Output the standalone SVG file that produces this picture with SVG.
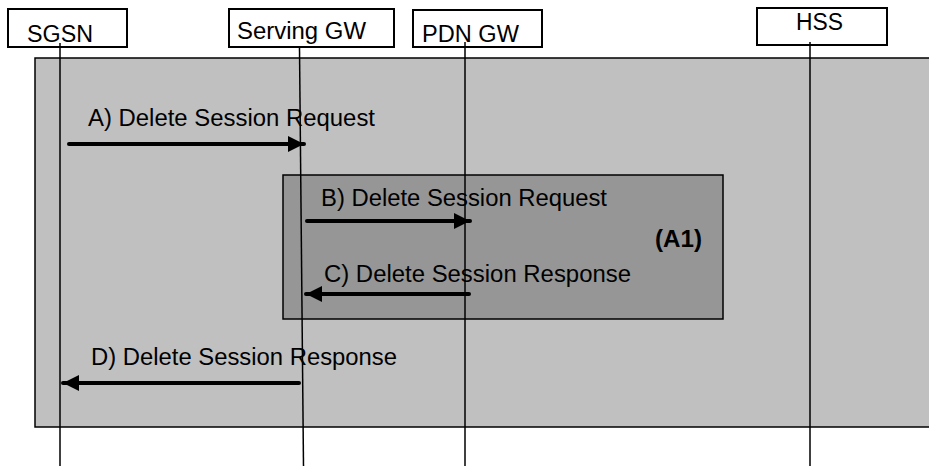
<svg xmlns="http://www.w3.org/2000/svg" width="929" height="466" viewBox="0 0 929 466">
<defs>
<style>
.t{font-family:"Liberation Sans",Arial,sans-serif;font-size:23px;fill:#000}
.b{font-weight:bold}
.hd{fill:#fff;stroke:#000;stroke-width:2}
.ll{stroke:#000;stroke-width:1.5;fill:none}
.ar{stroke:#000;stroke-width:4;fill:none;stroke-linecap:round}
</style>
<marker id="ah" markerUnits="userSpaceOnUse" markerWidth="18" markerHeight="18" refX="16" refY="8" orient="auto">
<path d="M0,0 L16,8 L0,16 Z" fill="#000"/>
</marker>
</defs>
<rect id="bg" x="35" y="58" width="900" height="369" fill="#c0c0c0" stroke="#000" stroke-width="1.5"/>
<rect id="a1box" x="283" y="175" width="440" height="144" fill="#969696" stroke="#000" stroke-width="1.5"/>
<g id="sgsn"><rect class="hd" x="8" y="9" width="119" height="38"/><text class="t" x="27" y="42" textLength="66" lengthAdjust="spacingAndGlyphs">SGSN</text></g>
<g id="sgw"><rect class="hd" x="229" y="9" width="165" height="38"/><text class="t" x="237" y="39" textLength="129" lengthAdjust="spacingAndGlyphs">Serving GW</text></g>
<g id="pgw"><rect class="hd" x="413" y="10" width="129" height="37"/><text class="t" x="422" y="42" textLength="97" lengthAdjust="spacingAndGlyphs">PDN GW</text></g>
<g id="hss"><rect class="hd" x="757" y="8" width="130" height="37"/><text class="t" x="796" y="30" textLength="47" lengthAdjust="spacingAndGlyphs">HSS</text></g>
<g id="connectors">
<line class="ll" x1="60" y1="43" x2="60" y2="466"/>
<line class="ll" x1="299.5" y1="48" x2="303.5" y2="466"/>
<line class="ll" x1="465" y1="42" x2="465" y2="466"/>
<line class="ll" x1="810" y1="42" x2="810" y2="466"/>
<line class="ar" x1="69" y1="144" x2="304" y2="144" marker-end="url(#ah)"/>
<line class="ar" x1="307" y1="221" x2="470" y2="221" marker-end="url(#ah)"/>
<line class="ar" x1="469" y1="294" x2="306" y2="294" marker-end="url(#ah)"/>
<line class="ar" x1="299" y1="383" x2="63" y2="383" marker-end="url(#ah)"/>
</g>
<text class="t" x="88" y="126" textLength="287" lengthAdjust="spacingAndGlyphs">A) Delete Session Request</text>
<text class="t" x="321" y="206" textLength="286" lengthAdjust="spacingAndGlyphs">B) Delete Session Request</text>
<text class="t" x="324" y="282" textLength="307" lengthAdjust="spacingAndGlyphs">C) Delete Session Response</text>
<text class="t b" x="655" y="247" textLength="47" lengthAdjust="spacingAndGlyphs">(A1)</text>
<text class="t" x="91" y="365" textLength="306" lengthAdjust="spacingAndGlyphs">D) Delete Session Response</text>
</svg>
